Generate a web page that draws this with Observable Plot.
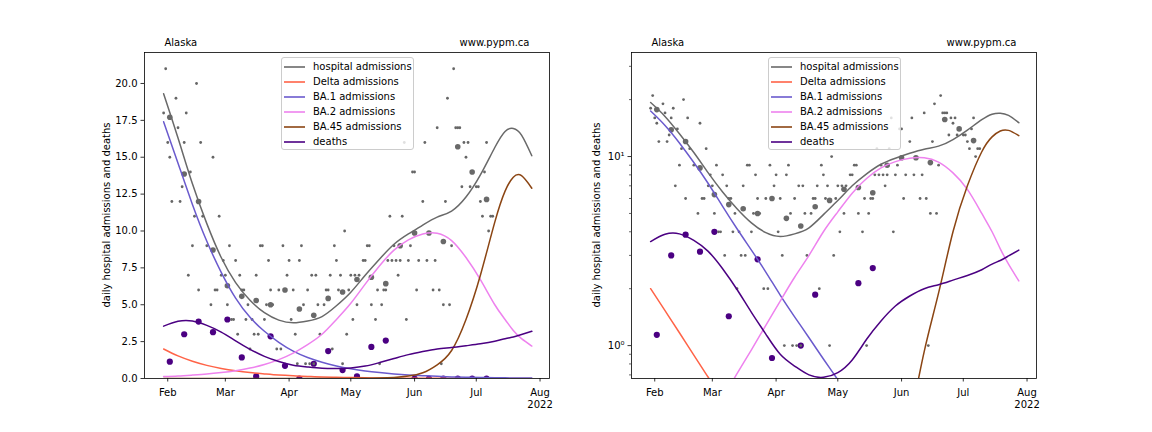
<!DOCTYPE html>
<html>
<head>
<meta charset="utf-8">
<script src="https://cdn.jsdelivr.net/npm/d3@7"></script>
<script src="https://cdn.jsdelivr.net/npm/@observablehq/plot@0.6"></script>
<style>
  body { margin: 0; background: #fff; }
  #wrap { position: relative; width: 1152px; height: 432px; overflow: hidden;
          font-family: "DejaVu Sans", sans-serif; font-size: 10px; color: #000; background: #fff; }
  .panel { position: absolute; top: 0; }
  .ylab { position: absolute; white-space: nowrap; transform: translate(-50%, -50%) rotate(-90deg); }
  .legend { position: absolute; box-sizing: border-box; background: rgba(255,255,255,0.8);
            border: 1px solid #cccccc; border-radius: 3px; padding: 1px 0 0 0; }
  .legend .row { height: 15px; line-height: 15px; position: relative; white-space: nowrap; }
  .legend .sw { position: absolute; left: 2px; top: 6.5px; width: 21px; height: 2px; opacity: 0.8; }
  .legend .tx { position: absolute; left: 31px; top: 0; }
</style>
</head>
<body>
<div id="wrap"></div>
<script>
// ---------------- data (days are counted from 1 Feb 2022) ----------------
const dailyDays = [-2,-1,0,1,2,4,5,6,7,8,9,10,11,12,13,14,15,16,17,19,21,22,23,24,25,26,27,28,29,30,31,32,33,34,35,36,37,38,39,40,41,42,43,44,45,46,47,48,49,50,51,53,54,55,56,58,59,60,61,62,63,64,65,66,67,68,69,70,71,72,73,74,76,77,78,79,80,81,82,83,84,85,86,87,88,89,90,91,92,93,95,96,97,98,99,101,102,103,104,105,106,107,108,109,110,111,112,113,114,115,116,117,118,119,120,121,122,124,125,126,129,130,131,132,133,134,135,136,137,138,139,140,141,142,143,144,145,146,147,150,151,152,153,154,155,156,157,158];
const dailyAdmissions = [18,21,16,15,12,19,17,12,13,16,18,7,14,9,11,20,6,16,11,9,5,15,6,6,11,7,8,7,5,9,4,4,8,3,7,6,6,4,5,2,4,3,7,3,9,9,4,5,8,6,5,2,6,2,9,7,8,4,6,3,1,8,9,5,1,6,1,7,1,7,5,3,5,6,6,7,2,9,8,6,7,1,10,3,6,7,4,7,5,7,8,8,9,9,5,4,6,1,5,6,6,8,11,8,9,8,7,8,11,16,4,8,9,14,14,6,8,12,16,8,6,8,17,6,1,5,12,19,5,9,21,17,17,17,13,16,15,16,13,13,13,12,11,14,16,10,11,11];

const weeklyDays = [1,8,15,22,29,36,43,50,57,64,71,78,85,92,99,106,113,120,127,134,141,148,155];
const weeklyAdmissions = [17.71,13.86,12.0,8.71,6.29,5.57,5.29,5.0,6.0,4.71,4.29,5.43,5.86,6.71,6.86,6.43,9.0,9.86,9.86,9.29,15.71,14.0,12.14];
const weeklyDeaths = [1.14,3.0,3.86,3.14,4.0,1.43,0.14,2.86,0.86,0,1.0,1.86,0.57,0.14,2.14,2.57,null,0,0,0,0,0,0];

const curveDays     = [-2,5,12,19,26,33,40,47,54,61,68,75,82,89,96,103,110,117,124,131,138,145,152,159,164,168,172,177];
const hospitalCurve = [19.3,16.3,13.2,10.5,8.2,6.5,5.3,4.46,3.96,3.78,3.9,4.2,4.93,5.85,7.0,8.1,9.1,9.8,10.4,10.94,11.35,12.3,13.8,15.66,16.75,16.95,16.5,15.1];
const deltaCurve    = [2.0,1.53,1.17,0.89,0.68,0.52,0.40,0.31,0.23,0.18,0.14,0.10,0.08,0.061,0.047,0.036,0.027,0.021,0.016,0.012,0.0093,0.0071,0.0055,0.0042,0.0034,0.0029,0.0025,0.0021];
const ba1Curve      = [17.4,14.6,11.8,9.3,7.2,5.45,4.15,3.2,2.45,1.85,1.42,1.10,0.85,0.66,0.51,0.40,0.31,0.24,0.19,0.145,0.11,0.087,0.068,0.052,0.044,0.038,0.033,0.027];
const ba2Curve      = [0.13,0.17,0.23,0.30,0.40,0.53,0.71,0.95,1.28,1.72,2.3,3.0,4.0,5.1,6.4,7.65,8.7,9.4,9.8,9.85,9.35,8.2,6.7,5.0,4.0,3.25,2.7,2.2];
const ba45Curve     = [0,0,0,0,0,0,0,0,0,0,0,0.001,0.002,0.005,0.012,0.029,0.069,0.164,0.39,0.93,1.9,4.0,7.0,10.6,12.7,13.65,13.75,12.9];
const deathsCurve   = [3.55,3.88,3.9,3.6,3.15,2.55,1.98,1.5,1.15,0.9,0.78,0.7,0.68,0.72,0.84,1.08,1.35,1.62,1.83,2.0,2.1,2.22,2.35,2.52,2.7,2.82,2.98,3.2];

const seriesNames  = ["hospital admissions","Delta admissions","BA.1 admissions","BA.2 admissions","BA.45 admissions","deaths"];
const seriesColors = ["dimgrey","tomato","slateblue","violet","saddlebrown","indigo"];

const monthTicks  = ["2022-02-01","2022-03-01","2022-04-01","2022-05-01","2022-06-01","2022-07-01","2022-08-01"];
const monthLabels = ["Feb","Mar","Apr","May","Jun","Jul","Aug\n2022"];
const linearTicks = [0,2.5,5,7.5,10,12.5,15,17.5,20];
const logMajorTicks  = [1,10];
const logMajorLabels = ["10\u2070","10\u00b9"];
const logMinorTicks  = [0.7,0.8,0.9,2,3,4,5,6,7,8,9,20,30];
const cornerLabels = ["Alaska","www.pypm.ca"];
const yLabel = "daily hospital admissions and deaths";

// ---------------- drawing ----------------
const base = Date.UTC(2022, 1, 1);
const toDate = d => new Date(base + d * 86400000);
const xDomain = [toDate(-11.3), toDate(185.6)];
const monthDates = monthTicks.map(s => new Date(s + "T00:00:00Z"));
const curveSeries = [hospitalCurve, deltaCurve, ba1Curve, ba2Curve, ba45Curve, deathsCurve];

function makePanel(isLog) {
  const ok = v => v != null && (!isLog || v > 0);
  const pts = (days, vals) => days.map((d, i) => ({date: toDate(d), value: vals[i]})).filter(p => ok(p.value));

  const lines = curveSeries.map((vals, k) =>
    Plot.line(pts(curveDays, vals), {x: "date", y: "value", stroke: seriesColors[k], strokeWidth: 1.5, curve: "natural", clip: true}));

  const yAxes = isLog ? [
    Plot.axisY({ticks: logMinorTicks, tickSize: 2, strokeWidth: 0.6, tickFormat: () => "", label: null}),
    Plot.axisY({ticks: logMajorTicks, tickSize: 3.5, tickPadding: 3.5, strokeWidth: 0.8, fontSize: 10, label: null,
                tickFormat: v => logMajorLabels[logMajorTicks.indexOf(v)]})
  ] : [
    Plot.axisY({ticks: linearTicks, tickSize: 3.5, tickPadding: 3.5, strokeWidth: 0.8, fontSize: 10, label: null,
                tickFormat: d3.format(".1f")})
  ];

  return Plot.plot({
    width: 576, height: 432,
    marginLeft: isLog ? 55 : 144, marginRight: isLog ? 116 : 27, marginTop: 52, marginBottom: 54,
    style: {fontFamily: "DejaVu Sans", fontSize: "10px", background: "transparent", color: "#000", overflow: "visible"},
    x: {type: "utc", domain: xDomain, label: null},
    y: isLog ? {type: "log", domain: [0.67, 35.5], label: null} : {type: "linear", domain: [0, 22.1], label: null},
    marks: [
      Plot.dot(pts(weeklyDays, weeklyDeaths), {x: "date", y: "value", r: 3.1, fill: "indigo", clip: true}),
      Plot.dot(pts(dailyDays, dailyAdmissions), {x: "date", y: "value", r: 1.4, fill: "#666", clip: true}),
      Plot.dot(pts(weeklyDays, weeklyAdmissions), {x: "date", y: "value", r: 2.8, fill: "dimgrey", clip: true}),
      ...lines,
      Plot.frame({stroke: "#000", strokeWidth: 0.8}),
      Plot.axisX({ticks: monthDates, tickSize: 3.5, strokeWidth: 0.8, tickFormat: () => "", label: null}),
      Plot.text(monthDates, {x: d => d, frameAnchor: "bottom", text: (d, i) => monthLabels[i],
                             lineAnchor: "top", dy: 8.4, lineHeight: 1.22, fontSize: 10, fill: "#000"}),
      ...yAxes,
      Plot.text([cornerLabels[0]], {frameAnchor: "top-left", text: d => d, dx: 20, dy: -10,
                                   textAnchor: "start", lineAnchor: "middle", fontSize: 10, fill: "#000"}),
      Plot.text([cornerLabels[1]], {frameAnchor: "top-right", text: d => d, dx: -20, dy: -10,
                                   textAnchor: "end", lineAnchor: "middle", fontSize: 10, fill: "#000"})
    ]
  });
}

const wrap = document.getElementById("wrap");
[[false, 0, 106, 281], [true, 576, 596, 768]].forEach(([isLog, left, ylabX, legX]) => {
  const svg = makePanel(isLog);
  svg.classList.add("panel");
  svg.style.left = left + "px";
  wrap.appendChild(svg);

  const yl = document.createElement("div");
  yl.className = "ylab";
  yl.style.left = ylabX + "px";
  yl.style.top = "215px";
  yl.textContent = yLabel;
  wrap.appendChild(yl);

  const leg = document.createElement("div");
  leg.className = "legend";
  leg.style.left = legX + "px";
  leg.style.top = "57px";
  leg.style.width = "133px";
  leg.style.height = "93px";
  seriesNames.forEach((name, k) => {
    const row = document.createElement("div");
    row.className = "row";
    const sw = document.createElement("div");
    sw.className = "sw";
    sw.style.background = seriesColors[k];
    const tx = document.createElement("div");
    tx.className = "tx";
    tx.textContent = name;
    row.appendChild(sw);
    row.appendChild(tx);
    leg.appendChild(row);
  });
  wrap.appendChild(leg);
});
</script>
</body>
</html>
